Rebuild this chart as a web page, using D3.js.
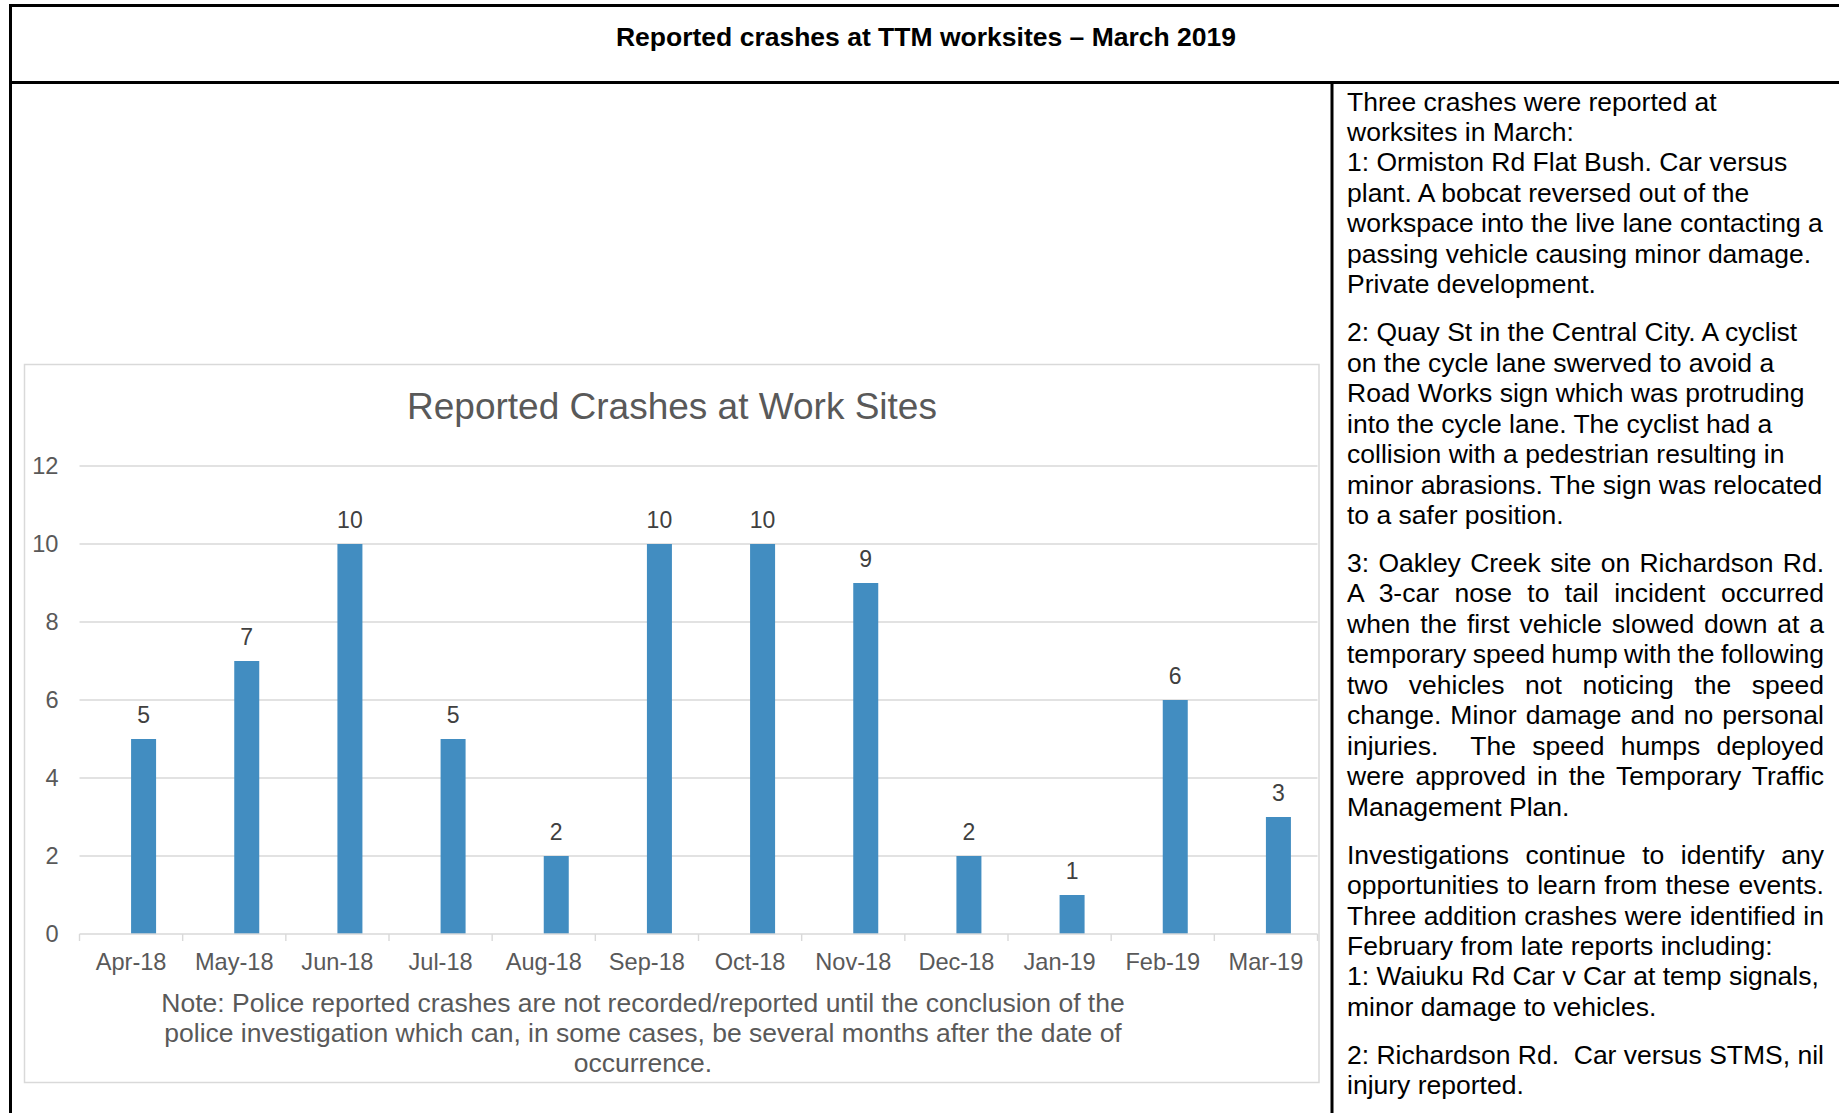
<!DOCTYPE html>
<html>
<head>
<meta charset="utf-8">
<script src="https://cdn.jsdelivr.net/npm/d3@7"></script>
<style>
  body { margin: 0; background: #fff; }
  svg { display: block; font-family: "Liberation Sans", Arial, sans-serif; }
</style>
</head>
<body>
<svg id="page" width="1839" height="1113"></svg>
<script>
// chart data
var months = ["Apr-18", "May-18", "Jun-18", "Jul-18", "Aug-18", "Sep-18",
    "Oct-18", "Nov-18", "Dec-18", "Jan-19", "Feb-19", "Mar-19"];
var crashes = [5, 7, 10, 5, 2, 10, 10, 9, 2, 1, 6, 3];
var yTicks = [0, 2, 4, 6, 8, 10, 12];
// the excel chart has an empty first series, so the bars sit right of centre
var series = ["blank", "Crashes"];

var noteLines = [
    "Note: Police reported crashes are not recorded/reported until the conclusion of the",
    "police investigation which can, in some cases, be several months after the date of",
    "occurrence."
];

// right hand column, j = justified line
var paras = [
    [{t: "Three crashes were reported at"}, {t: "worksites in March:"},
     {t: "1: Ormiston Rd Flat Bush. Car versus"}, {t: "plant. A bobcat reversed out of the"},
     {t: "workspace into the live lane contacting a"}, {t: "passing vehicle causing minor damage."},
     {t: "Private development."}],
    [{t: "2: Quay St in the Central City. A cyclist"}, {t: "on the cycle lane swerved to avoid a"},
     {t: "Road Works sign which was protruding"}, {t: "into the cycle lane. The cyclist had a"},
     {t: "collision with a pedestrian resulting in"}, {t: "minor abrasions. The sign was relocated"},
     {t: "to a safer position."}],
    [{t: "3: Oakley Creek site on Richardson Rd.", j: 1}, {t: "A 3-car nose to tail incident occurred", j: 1},
     {t: "when the first vehicle slowed down at a", j: 1}, {t: "temporary speed hump with the following", j: 1},
     {t: "two vehicles not noticing the speed", j: 1}, {t: "change. Minor damage and no personal", j: 1},
     {t: "injuries.  The speed humps deployed", j: 1}, {t: "were approved in the Temporary Traffic", j: 1},
     {t: "Management Plan."}],
    [{t: "Investigations continue to identify any", j: 1}, {t: "opportunities to learn from these events.", j: 1},
     {t: "Three addition crashes were identified in", j: 1}, {t: "February from late reports including:"},
     {t: "1: Waiuku Rd Car v Car at temp signals,"}, {t: "minor damage to vehicles."}],
    [{t: "2: Richardson Rd.  Car versus STMS, nil", j: 1}, {t: "injury reported."}]
];

var svg = d3.select("#page");
var grey = "#595959", light = "#d9d9d9";

// table lines
svg.append("line").attr("x1", 9).attr("x2", 1839).attr("y1", 5.5).attr("y2", 5.5)
    .attr("stroke", "#000").attr("stroke-width", 3);
svg.append("line").attr("x1", 10.5).attr("x2", 10.5).attr("y1", 4).attr("y2", 1113)
    .attr("stroke", "#000").attr("stroke-width", 3);
svg.append("line").attr("x1", 9).attr("x2", 1839).attr("y1", 82.5).attr("y2", 82.5)
    .attr("stroke", "#000").attr("stroke-width", 3);
svg.append("line").attr("x1", 1332).attr("x2", 1332).attr("y1", 81).attr("y2", 1113)
    .attr("stroke", "#000").attr("stroke-width", 3);

svg.append("text")
    .attr("x", 926).attr("y", 46)
    .attr("text-anchor", "middle")
    .style("font-weight", "bold").style("font-size", "26.5px")
    .text("Reported crashes at TTM worksites \u2013 March 2019");

// chart box
svg.append("rect")
    .attr("x", 24.5).attr("y", 364.5).attr("width", 1294.5).attr("height", 718)
    .attr("fill", "#fff").attr("stroke", light).attr("stroke-width", 1.5);

svg.append("text")
    .attr("x", 672).attr("y", 419)
    .attr("text-anchor", "middle")
    .style("font-size", "37px").attr("fill", grey)
    .text("Reported Crashes at Work Sites");

var x0 = d3.scaleBand().domain(months).range([79.5, 1317.5]);
var x1 = d3.scaleBand().domain(series).range([0, 50]);
var y = d3.scaleLinear().domain([0, 12]).range([934, 466]);
var off = (x0.bandwidth() - x1.range()[1]) / 2;

// gridlines
svg.selectAll(".grid")
    .data(yTicks.filter(function (d) { return d > 0; }))
    .enter().append("line")
    .attr("class", "grid")
    .attr("x1", x0.range()[0]).attr("x2", x0.range()[1])
    .attr("y1", function (d) { return y(d); }).attr("y2", function (d) { return y(d); })
    .attr("stroke", light).attr("stroke-width", 1.4);

var yAxis = svg.append("g")
    .attr("transform", "translate(" + x0.range()[0] + ",0)")
    .call(d3.axisLeft(y).tickValues(yTicks).tickSize(0).tickPadding(21));
yAxis.select(".domain").remove();
yAxis.selectAll("text").style("font-size", "23.6px").attr("fill", grey)
    .style("font-family", "'Liberation Sans', Arial, sans-serif");

// bars
svg.selectAll(".bar")
    .data(crashes)
    .enter().append("rect")
    .attr("class", "bar")
    .attr("x", function (d, i) { return x0(months[i]) + off + x1("Crashes"); })
    .attr("y", function (d) { return y(d); })
    .attr("width", x1.bandwidth())
    .attr("height", function (d) { return y(0) - y(d); })
    .attr("fill", "#428dc1");

svg.selectAll(".lbl")
    .data(crashes)
    .enter().append("text")
    .attr("class", "lbl")
    .attr("x", function (d, i) { return x0(months[i]) + off + x1("Crashes") + x1.bandwidth() / 2; })
    .attr("y", function (d) { return y(d) - 16.5; })
    .attr("text-anchor", "middle")
    .style("font-size", "23px").attr("fill", "#404040")
    .text(function (d) { return d; });

// x axis
var xAxis = svg.append("g")
    .attr("transform", "translate(0," + y(0) + ")")
    .call(d3.axisBottom(x0).tickSize(0).tickPadding(19));
xAxis.select(".domain").remove();
xAxis.selectAll("text").style("font-size", "23.6px").attr("fill", grey)
    .style("font-family", "'Liberation Sans', Arial, sans-serif");

svg.append("line")
    .attr("x1", x0.range()[0]).attr("x2", x0.range()[1])
    .attr("y1", y(0)).attr("y2", y(0))
    .attr("stroke", light).attr("stroke-width", 1.4);

var edges = months.map(function (m) { return x0(m); }).concat([x0.range()[1]]);
svg.selectAll(".tk")
    .data(edges)
    .enter().append("line")
    .attr("class", "tk")
    .attr("x1", function (d) { return d; }).attr("x2", function (d) { return d; })
    .attr("y1", y(0)).attr("y2", y(0) + 7)
    .attr("stroke", light).attr("stroke-width", 1.4);

// note under the chart
svg.selectAll(".note")
    .data(noteLines)
    .enter().append("text")
    .attr("class", "note")
    .attr("x", 643)
    .attr("y", function (d, i) { return 1011.5 + i * 30; })
    .attr("text-anchor", "middle")
    .style("font-size", "26.5px").attr("fill", grey)
    .text(function (d) { return d; });

// right column text
var left = 1347, colW = 477, lineH = 30.45, paraGap = 17.6;
var ty = 110.5;
paras.forEach(function (p) {
    p.forEach(function (ln) {
        var t = svg.append("text")
            .attr("x", left).attr("y", ty)
            .style("font-size", "26.5px").style("white-space", "pre")
            .attr("fill", "#000")
            .text(ln.t);
        if (ln.j) {
            var w = t.node().getComputedTextLength();
            var n = ln.t.split(" ").length - 1;
            if (n > 0) t.style("word-spacing", ((colW - w) / n) + "px");
        }
        ty += lineH;
    });
    ty += paraGap;
});
</script>
</body>
</html>
